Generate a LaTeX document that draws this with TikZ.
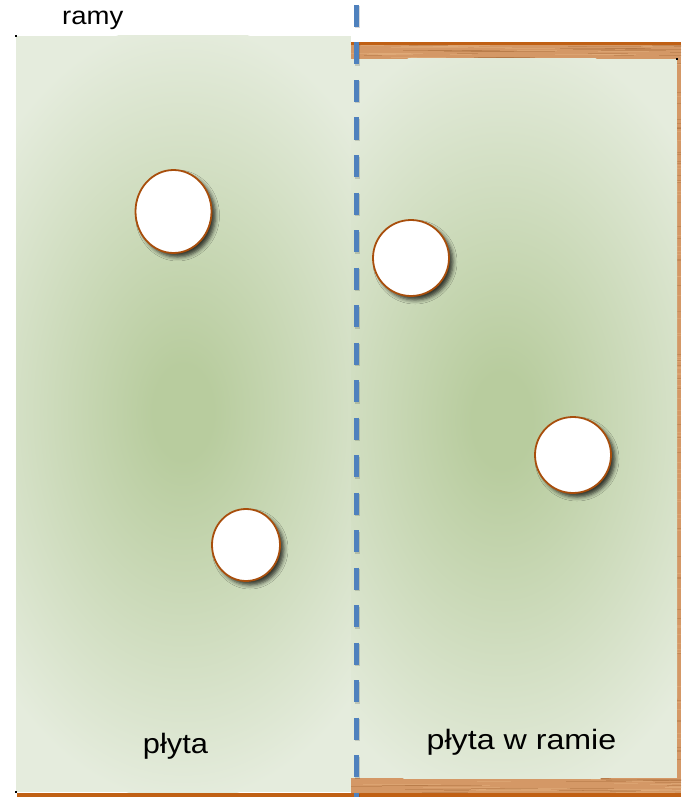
\documentclass[tikz,border=0pt]{standalone}
\usepackage{fontspec}
\setmainfont{Liberation Sans}
\usetikzlibrary{shapes.geometric,shadows.blur}
\definecolor{pc}{RGB}{184,204,158}
\definecolor{pe}{RGB}{229,236,221}
\definecolor{wood}{RGB}{212,152,102}
\definecolor{woodd}{RGB}{175,115,65}
\definecolor{woodl}{RGB}{228,178,128}
\definecolor{rim}{RGB}{192,96,20}
\definecolor{dashc}{RGB}{79,129,189}
\definecolor{ring}{RGB}{168,78,12}
\definecolor{shd}{RGB}{40,50,35}
\pgfdeclareradialshading{plate}{\pgfpoint{0bp}{0bp}}{color(0bp)=(pc); color(3bp)=(pc); color(25bp)=(pe); color(50bp)=(pe)}
\tikzset{
  hole/.style={ellipse, draw=ring, line width=1.8pt, fill=white, inner sep=0pt,
    blur shadow={shadow xshift=4pt, shadow yshift=-4pt, shadow blur radius=4pt, shadow opacity=75, shadow blur extra rounding=0pt}},
  lbl/.style={inner sep=0pt, text=black, font=\fontsize{28}{32}\selectfont},
  grain/.style={line width=1pt, opacity=0.45},
  handle/.style={fill=black}
}
\begin{document}
\begin{tikzpicture}[x=1pt,y=-1pt]
\useasboundingbox (0,0) rectangle (681,797);
\fill[white] (0,0) rectangle (681,797);
% wooden frame
\fill[wood] (351,42) rectangle (681,797);
\pgfmathsetseed{7}
\begin{scope}
\clip (351,45) rectangle (681,797);
\foreach \k in {1,...,45}{
  \pgfmathsetmacro\yy{45+rnd*14}
  \pgfmathsetmacro\xx{345+rnd*336}
  \pgfmathsetmacro\ll{15+rnd*70}
  \pgfmathsetmacro\cc{rnd>0.5?1:0}
  \ifnum\cc=1 \draw[grain,woodd] (\xx,\yy) -- ++(\ll,0); \else \draw[grain,woodl] (\xx,\yy) -- ++(\ll,0); \fi
}
\foreach \k in {1,...,45}{
  \pgfmathsetmacro\yy{778+rnd*15}
  \pgfmathsetmacro\xx{345+rnd*336}
  \pgfmathsetmacro\ll{15+rnd*70}
  \pgfmathsetmacro\cc{rnd>0.5?1:0}
  \ifnum\cc=1 \draw[grain,woodd] (\xx,\yy) -- ++(\ll,0); \else \draw[grain,woodl] (\xx,\yy) -- ++(\ll,0); \fi
}
\foreach \k in {1,...,110}{
  \pgfmathsetmacro\yy{59+rnd*720}
  \pgfmathsetmacro\cc{rnd>0.5?1:0}
  \ifnum\cc=1 \draw[grain,woodd] (676,\yy) -- ++(5,0); \else \draw[grain,woodl] (676,\yy) -- ++(5,0); \fi
}
\end{scope}
\fill[rim] (351,42) rectangle (681,45);
\fill[rim] (17,792.5) rectangle (681,797);
% left plate
\fill[pe] (16,36) rectangle (351,792);
\begin{scope}
\clip (16,36) rectangle (351,792);
\shade[shading=plate] (183,412) ellipse [x radius=250, y radius=390];
\end{scope}
% right plate
\fill[pe] (351,59) rectangle (677,778);
\begin{scope}
\clip (351,59) rectangle (677,778);
\shade[shading=plate] (502,420) ellipse [x radius=250, y radius=390];
\end{scope}
% selection handles
\fill[handle] (15,35) rectangle (17,37);
\fill[handle] (676,58) rectangle (678,60);
\fill[handle] (15,791) rectangle (17,793);
% holes
\node[hole, minimum width=76pt, minimum height=83pt] (h1) at (173.5,211.5) {};
\node[hole, minimum width=68pt, minimum height=72pt] (h2) at (246,545) {};
\node[hole, minimum width=76pt, minimum height=76pt] (h3) at (411,258) {};
\node[hole, minimum width=76pt, minimum height=76pt] (h4) at (573,455) {};
% dashed line
\coordinate (dtop) at (356,5);
\coordinate (dbot) at (356,797);
\draw[dash pattern=on 22pt off 15.5pt, line width=5pt, black, opacity=0.15] ([shift={(1.5,1.5)}]dtop) -- ([shift={(1.5,1.5)}]dbot);
\draw[dash pattern=on 22pt off 15.5pt, line width=5pt, dashc] (dtop) -- (dbot);
% labels
\node[lbl, anchor=base west, font=\fontsize{25}{30}\selectfont] (ramy) at (62,25) {\scalebox{1.1}[1]{ramy}};
\node[lbl, anchor=base] (plyta) at (175.5,753) {\scalebox{1.1}[1]{płyta}};
\node[lbl, anchor=base] (plytaw) at (521.5,749) {\scalebox{1.15}[1]{płyta w ramie}};
\end{tikzpicture}
\end{document}
